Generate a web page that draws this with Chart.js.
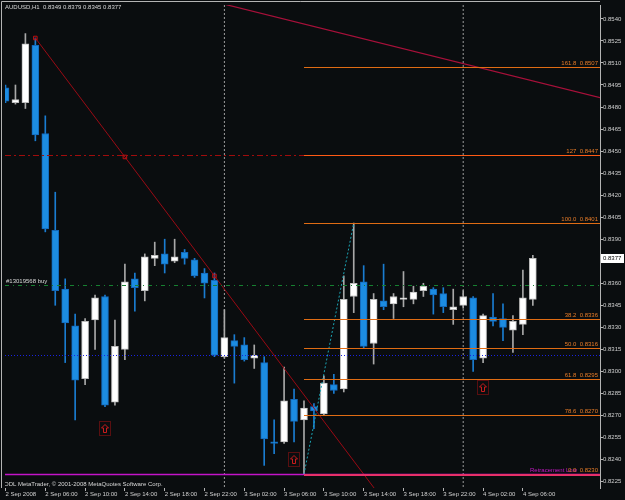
<!DOCTYPE html>
<html>
<head>
<meta charset="utf-8">
<title>AUDUSD,H1</title>
<script src="https://cdn.jsdelivr.net/npm/chart.js@4.4.0/dist/chart.umd.min.js"></script>
<style>
  html, body { margin: 0; padding: 0; background: #0a0d0f; }
  canvas { display: block; }
</style>
</head>
<body>
<canvas id="mtChart" width="625" height="500"></canvas>
<script>
// AUDUSD H1, one candle per hour from 2 Sep 02:00 to 4 Sep 07:00
const openPrices = [
  0.8493, 0.8483, 0.8483, 0.8522, 0.8462, 0.8396, 0.8356, 0.8331, 0.8295, 0.8335,
  0.8351, 0.8279, 0.8315, 0.8363, 0.8355, 0.8377, 0.8380, 0.8375, 0.8381, 0.8376,
  0.8367, 0.8362, 0.8310, 0.8321, 0.8318, 0.8309, 0.8306, 0.8252, 0.8252, 0.8281,
  0.8267, 0.8276, 0.8271, 0.8291, 0.8288, 0.8351, 0.8361, 0.8319, 0.8348, 0.8346,
  0.8349, 0.8349, 0.8355, 0.8356, 0.8353, 0.8342, 0.8345, 0.8350, 0.8309, 0.8337,
  0.8336, 0.8328, 0.8332, 0.8349
];
const highPrices = [
  0.8495, 0.8495, 0.8530, 0.8527, 0.8474, 0.8422, 0.8363, 0.8339, 0.8336, 0.8352,
  0.8352, 0.8335, 0.8373, 0.8367, 0.8380, 0.8388, 0.8390, 0.8390, 0.8383, 0.8377,
  0.8370, 0.8367, 0.8342, 0.8325, 0.8323, 0.8318, 0.8310, 0.8267, 0.8303, 0.8288,
  0.8280, 0.8278, 0.8297, 0.8298, 0.8365, 0.8401, 0.8372, 0.8353, 0.8373, 0.8353,
  0.8368, 0.8358, 0.8360, 0.8357, 0.8357, 0.8356, 0.8355, 0.8351, 0.8339, 0.8353,
  0.8346, 0.8338, 0.8369, 0.8379
];
const lowPrices = [
  0.8483, 0.8482, 0.8479, 0.8457, 0.8395, 0.8345, 0.8306, 0.8267, 0.8291, 0.8315,
  0.8276, 0.8277, 0.8308, 0.8341, 0.8348, 0.8372, 0.8367, 0.8374, 0.8373, 0.8364,
  0.8350, 0.8310, 0.8309, 0.8292, 0.8307, 0.8302, 0.8236, 0.8244, 0.8251, 0.8252,
  0.8230, 0.8261, 0.8270, 0.8285, 0.8286, 0.8340, 0.8316, 0.8305, 0.8342, 0.8336,
  0.8344, 0.8346, 0.8351, 0.8339, 0.8340, 0.8332, 0.8343, 0.8300, 0.8306, 0.8331,
  0.8321, 0.8313, 0.8325, 0.8345
];
const closePrices = [
  0.8484, 0.8485, 0.8523, 0.8461, 0.8397, 0.8355, 0.8333, 0.8294, 0.8334, 0.8350,
  0.8277, 0.8317, 0.8361, 0.8357, 0.8378, 0.8379, 0.8373, 0.8378, 0.8377, 0.8365,
  0.8360, 0.8311, 0.8323, 0.8317, 0.8308, 0.8311, 0.8254, 0.8251, 0.8280, 0.8266,
  0.8275, 0.8273, 0.8292, 0.8287, 0.8349, 0.8360, 0.8317, 0.8349, 0.8344, 0.8351,
  0.8350, 0.8354, 0.8358, 0.8352, 0.8344, 0.8344, 0.8351, 0.8308, 0.8338, 0.8334,
  0.8330, 0.8334, 0.8350, 0.8377
];

const timeTickIdx = [0, 4, 8, 12, 16, 20, 24, 28, 32, 36, 40, 44, 48, 52];
const timeLabels = [
  "2 Sep 2008", "2 Sep 06:00", "2 Sep 10:00", "2 Sep 14:00", "2 Sep 18:00",
  "2 Sep 22:00", "3 Sep 02:00", "3 Sep 06:00", "3 Sep 10:00", "3 Sep 14:00",
  "3 Sep 18:00", "3 Sep 22:00", "4 Sep 02:00", "4 Sep 06:00"
];
const priceTicks = [
  0.8540, 0.8525, 0.8510, 0.8495, 0.8480, 0.8465, 0.8450, 0.8435, 0.8420, 0.8405,
  0.8390, 0.8375, 0.8360, 0.8345, 0.8330, 0.8315, 0.8300, 0.8285, 0.8270, 0.8255,
  0.8240, 0.8225
];

// fibonacci retracement drawn from bar 30 (low) to bar 35 (high)
const fibNames = ["161.8", "127", "100.0", "78.6", "61.8", "50.0", "38.2", "0.0"];
const fibPrices = [0.8507, 0.8447, 0.8401, 0.8270, 0.8295, 0.8316, 0.8336, 0.8230];
const fibStartIdx = 30;
const fibBaseX = [30, 35];
const fibBaseY = [0.8230, 0.8401];

// objects on the chart
const resistPrice = 0.8447;
const buyPrice = 0.8359;
const stopPrice = 0.8311;
const retraceLowPrice = 0.8230;
const trendAX = [3, 12, 21];
const trendAY = [0.8527, 0.8446, 0.8365];
const trendBX = [22, 60];
const trendBY = [0.8550, 0.8486];
const fractalIdx = [10, 29, 48];
const fractalPrice = [0.8261, 0.8240, 0.8289];
const dayStartIdx = [22, 46];

const FONT = '"Liberation Sans", Arial, sans-serif';
const isUp = closePrices.map((c, i) => c >= openPrices[i]);

// extend the first trend line as a ray past the last anchor
const slopeA = (trendAY[2] - trendAY[0]) / (trendAX[2] - trendAX[0]);
const trendAData = trendAX.map((x, i) => ({ x: x, y: trendAY[i] }));
trendAData.push({ x: 45, y: trendAY[2] + slopeA * (45 - trendAX[2]) });

function hLine(ctx, py, x0, x1, color, dash, width) {
  ctx.save();
  ctx.strokeStyle = color;
  ctx.lineWidth = width || 1;
  ctx.setLineDash(dash || []);
  ctx.beginPath();
  ctx.moveTo(x0, py);
  ctx.lineTo(x1, py);
  ctx.stroke();
  ctx.restore();
}

const mtOverlay = {
  id: 'mtOverlay',
  beforeDraw(chart) {
    const ctx = chart.ctx;
    ctx.save();
    ctx.fillStyle = '#0a0d0f';
    ctx.fillRect(0, 0, chart.width, chart.height);
    ctx.restore();
  },
  beforeDatasetsDraw(chart) {
    const { ctx, chartArea: a, scales: { x } } = chart;
    ctx.save();
    ctx.strokeStyle = '#9c9c9c';
    ctx.lineWidth = 1;
    ctx.setLineDash([2, 2]);
    dayStartIdx.forEach((i) => {
      const px = x.getPixelForValue(i);
      ctx.beginPath();
      ctx.moveTo(px, a.top);
      ctx.lineTo(px, a.bottom);
      ctx.stroke();
    });
    ctx.restore();
  },
  afterDatasetsDraw(chart) {
    const { ctx, chartArea: a, scales: { x, y } } = chart;
    const yp = (p) => Math.round(y.getPixelForValue(p)) + 0.5;

    ctx.save();
    ctx.beginPath();
    ctx.rect(a.left, a.top, a.right - a.left, a.bottom - a.top);
    ctx.clip();

    // horizontal objects
    hLine(ctx, yp(resistPrice), a.left, a.right, '#a00c0c', [6, 3, 2, 3]);
    hLine(ctx, yp(buyPrice), a.left, a.right, '#168030', [4, 4, 1, 4]);
    hLine(ctx, yp(stopPrice), a.left, a.right, '#1a22e0', [1, 2]);
    hLine(ctx, yp(retraceLowPrice), a.left, a.right, '#c414c8', [], 1.5);

    // fibonacci levels, filled 1px rows
    const fx = Math.round(x.getPixelForValue(fibStartIdx));
    fibPrices.forEach((p, i) => {
      let col = '#e06c14';
      if (fibNames[i] === '127') col = '#ff5a14';
      if (fibNames[i] === '0.0') col = '#e8306a';
      ctx.fillStyle = col;
      const row = Math.round(y.getPixelForValue(p));
      ctx.fillRect(fx, row, a.right - fx, fibNames[i] === '0.0' ? 2 : 1);
    });
    ctx.font = '6px ' + FONT;
    ctx.textAlign = 'right';
    ctx.textBaseline = 'bottom';
    ctx.fillStyle = '#c818c8';
    ctx.fillText('Retracement Low', a.right - 23, yp(retraceLowPrice) - 1);
    fibPrices.forEach((p, i) => {
      ctx.fillStyle = '#e87c28';
      ctx.fillText(fibNames[i] + '  ' + p.toFixed(4), a.right - 2, yp(p) - 1);
    });

    // fractal arrows
    fractalIdx.forEach((i, k) => {
      const px = Math.round(x.getPixelForValue(i));
      const py = Math.round(y.getPixelForValue(fractalPrice[k]));
      ctx.save();
      ctx.strokeStyle = '#a81212';
      ctx.lineWidth = 1;
      ctx.setLineDash([1, 1]);
      ctx.strokeRect(px - 5.5, py - 7.5, 11, 14);
      ctx.setLineDash([]);
      ctx.strokeStyle = '#c81c1c';
      ctx.beginPath();
      ctx.moveTo(px, py - 4.5);
      ctx.lineTo(px + 3.5, py - 1);
      ctx.lineTo(px + 1.5, py - 1);
      ctx.lineTo(px + 1.5, py + 3.5);
      ctx.lineTo(px - 1.5, py + 3.5);
      ctx.lineTo(px - 1.5, py - 1);
      ctx.lineTo(px - 3.5, py - 1);
      ctx.closePath();
      ctx.stroke();
      ctx.restore();
    });

    // texts on the chart
    ctx.textAlign = 'left';
    ctx.textBaseline = 'middle';
    ctx.fillStyle = '#d8d8d8';
    ctx.fillText('AUDUSD,H1  ' + openPrices[53].toFixed(4) + ' ' + highPrices[53].toFixed(4) + ' ' +
      lowPrices[53].toFixed(4) + ' ' + closePrices[53].toFixed(4), 5, 7);
    ctx.fillText('#13019568 buy', 6, yp(buyPrice) - 4);
    ctx.fillText('ODL MetaTrader, \u00a9 2001-2008 MetaQuotes Software Corp.', 4, 484);
    ctx.restore();

    // frame
    ctx.save();
    ctx.strokeStyle = '#b4b4b4';
    ctx.lineWidth = 1;
    ctx.beginPath();
    ctx.moveTo(1.5, a.bottom);
    ctx.lineTo(1.5, 1.5);
    ctx.lineTo(a.right, 1.5);
    ctx.stroke();
    ctx.restore();

    // current price box
    const cy = Math.round(y.getPixelForValue(closePrices[53]));
    ctx.save();
    ctx.fillStyle = '#ffffff';
    ctx.fillRect(a.right + 1, cy - 4, 23, 9);
    ctx.fillStyle = '#000000';
    ctx.font = '6px ' + FONT;
    ctx.textBaseline = 'middle';
    ctx.fillText(closePrices[53].toFixed(4), a.right + 3, cy + 0.5);
    ctx.restore();
  }
};

new Chart(document.getElementById('mtChart'), {
  type: 'bar',
  data: {
    datasets: [
      {
        type: 'line',
        data: trendAData,
        borderColor: '#9a0a14',
        borderWidth: 1,
        pointStyle: 'rect',
        pointRadius: [2.5, 2.5, 2.5, 0],
        pointBorderColor: '#c01010',
        pointBackgroundColor: 'rgba(0,0,0,0)',
        pointBorderWidth: 1,
        tension: 0,
        order: 0,
      },
      {
        type: 'line',
        data: trendBX.map((x, i) => ({ x: x, y: trendBY[i] })),
        borderColor: '#a8103a',
        borderWidth: 1.2,
        pointRadius: 0,
        tension: 0,
        order: 0,
      },
      {
        type: 'line',
        data: fibBaseX.map((x, i) => ({ x: x, y: fibBaseY[i] })),
        borderColor: '#1aa4b4',
        borderWidth: 1,
        borderDash: [2, 2],
        pointRadius: 0,
        tension: 0,
        order: 0,
      },
      {
        label: 'body',
        data: openPrices.map((o, i) => ({ x: i, y: [o, closePrices[i]] })),
        backgroundColor: isUp.map((u) => (u ? '#ffffff' : '#1c8ce2')),
        borderColor: isUp.map((u) => (u ? '#bcbcbc' : '#1468b8')),
        borderWidth: 1,
        borderSkipped: false,
        barThickness: 7,
        minBarLength: 1,
        grouped: false,
        order: 2,
      },
      {
        label: 'wick',
        data: lowPrices.map((l, i) => ({ x: i, y: [l, highPrices[i]] })),
        backgroundColor: isUp.map((u) => (u ? '#a8a8a8' : '#1a7cd0')),
        borderWidth: 0,
        barThickness: 1,
        grouped: false,
        order: 3,
      },
    ],
  },
  options: {
    responsive: false,
    animation: false,
    devicePixelRatio: 1,
    layout: { padding: { left: 2, top: 2, right: 0, bottom: 0 } },
    plugins: { legend: { display: false }, tooltip: { enabled: false } },
    scales: {
      x: {
        type: 'linear',
        offset: false,
        min: -0.05,
        max: 59.75,
        afterBuildTicks: (s) => { s.ticks = timeTickIdx.map((v) => ({ value: v })); },
        afterFit: (s) => { s.height = 12; s.paddingLeft = 0; s.paddingRight = 0; },
        ticks: {
          autoSkip: false,
          maxRotation: 0,
          minRotation: 0,
          align: 'start',
          padding: 0,
          color: '#d0d0d0',
          font: { size: 6, family: FONT },
          callback: (v) => timeLabels[timeTickIdx.indexOf(v)],
        },
        grid: { offset: false, drawOnChartArea: false, drawTicks: true, tickLength: 3, color: '#b4b4b4' },
        border: { display: false },
      },
      y: {
        position: 'right',
        min: 0.82206,
        max: 0.854947,
        afterBuildTicks: (s) => { s.ticks = priceTicks.map((v) => ({ value: v })); },
        afterFit: (s) => { s.width = 25; s.paddingTop = 0; s.paddingBottom = 0; },
        ticks: {
          padding: 0,
          color: '#d0d0d0',
          font: { size: 6, family: FONT },
          callback: (v) => v.toFixed(4),
        },
        grid: { drawOnChartArea: false, drawTicks: true, tickLength: 3, color: '#b4b4b4' },
        border: { display: true, color: '#b4b4b4' },
      },
    },
  },
  plugins: [mtOverlay],
});
</script>
</body>
</html>
